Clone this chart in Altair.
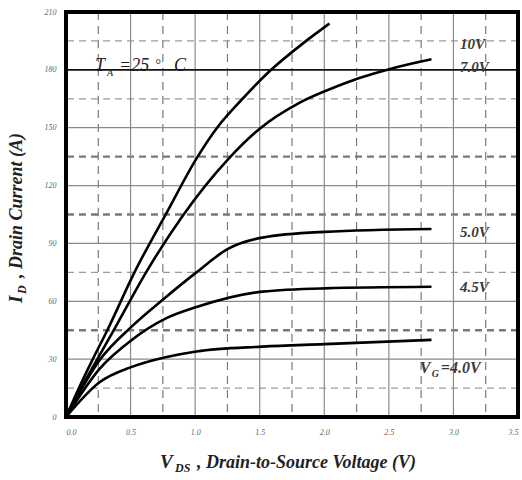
import altair as alt
import pandas as pd

# ---- data ----
vds_10 = [0, 0.1, 0.2, 0.32, 0.53, 0.78, 1.01, 1.17, 1.36, 1.58, 1.84, 2.04]
id_10 = [0, 15, 29, 45, 75, 106, 134, 150, 164.5, 179.5, 194, 204]

vds_7 = [0, 0.1, 0.2, 0.37, 0.62, 0.9, 1.26, 1.50, 1.81, 2.12, 2.26, 2.51, 2.83]
id_7 = [0, 13, 25, 45, 75, 104, 134, 149.5, 163, 172, 175.5, 180.5, 185.5]

vds_5 = [0, 0.26, 0.51, 0.77, 1.01, 1.25, 1.52, 2.0, 2.83]
id_5 = [0, 29.5, 47, 62, 75, 87, 93, 96, 97.5]

vds_45 = [0, 0.26, 0.51, 0.77, 1.01, 1.52, 2.0, 2.83]
id_45 = [0, 25, 40, 51, 57, 65, 66.7, 67.5]

vds_4 = [0, 0.26, 0.51, 0.77, 1.01, 1.52, 2.0, 2.83]
id_4 = [0, 18, 26, 31, 34, 36.5, 37.8, 40]

x_major = [0.5, 1.0, 1.5, 2.0, 2.5, 3.0]
x_minor = [0.25, 0.75, 1.25, 1.75, 2.25, 2.75, 3.25]
y_major = [30, 60, 90, 120, 150, 210]
y_bold = [180]
y_minor_thin = [15, 75, 165, 195]
y_minor_thick = [45, 105, 135]
x_ticks = [0, 0.5, 1.0, 1.5, 2.0, 2.5, 3.0, 3.5]
y_ticks = [0, 30, 60, 90, 120, 150, 180, 210]
x_range = [0, 3.5]
y_range = [0, 210]

curve_labels = ["10V", "7.0V", "5.0V", "4.5V"]
curve_label_x = [3.05, 3.05, 3.05, 3.05]
curve_label_y = [191, 179, 93.5, 65]

# ---- tables ----
rows = []
for name, xs_, ys_ in [("10V", vds_10, id_10), ("7.0V", vds_7, id_7), ("5.0V", vds_5, id_5),
                       ("4.5V", vds_45, id_45), ("4.0V", vds_4, id_4)]:
    for i, (a, b) in enumerate(zip(xs_, ys_)):
        rows.append({"vg": name, "vds": a, "id": b, "o": i})
curves = pd.DataFrame(rows)

FONT = "Liberation Serif"
W, H = 452, 405
xs = alt.Scale(domain=x_range, nice=False)
ys = alt.Scale(domain=y_range, nice=False)


def vrules(vals, color, width, dash=None):
    kw = dict(color=color, strokeWidth=width)
    if dash:
        kw["strokeDash"] = dash
    return alt.Chart(pd.DataFrame({"v": vals})).mark_rule(**kw).encode(
        x=alt.X("v:Q", scale=xs))


def hrules(vals, color, width, dash=None):
    kw = dict(color=color, strokeWidth=width)
    if dash:
        kw["strokeDash"] = dash
    return alt.Chart(pd.DataFrame({"v": vals})).mark_rule(**kw).encode(
        y=alt.Y("v:Q", scale=ys))


base_axes = alt.Chart(pd.DataFrame({"vds": [0], "id": [0]})).mark_point(opacity=0).encode(
    x=alt.X("vds:Q", scale=xs,
            axis=alt.Axis(values=x_ticks, format=".1f", title=None, grid=False, ticks=False,
                          domain=False, labelPadding=11, labelFont=FONT, labelFontStyle="italic",
                          labelFontSize=8, labelColor="#666")),
    y=alt.Y("id:Q", scale=ys,
            axis=alt.Axis(values=y_ticks, format="d", title=None, grid=False, ticks=False,
                          domain=False, labelPadding=10, labelFont=FONT, labelFontStyle="italic",
                          labelFontSize=8, labelColor="#666")),
)

grid = [
    vrules(x_minor, "#7a7a7a", 1.2, [8, 6]),
    hrules(y_minor_thin, "#9a9a9a", 1.2, [7, 5]),
    hrules(y_minor_thick, "#7a7a7a", 2.4, [7, 5]),
    vrules(x_major, "#8a8a8a", 1.2),
    hrules(y_major, "#8a8a8a", 1.2),
    hrules(y_bold, "#111111", 1.8),
]

frame = alt.Chart(pd.DataFrame({"x1": [x_range[0]], "x2": [x_range[1]],
                                "y1": [y_range[0]], "y2": [y_range[1]]})).mark_rect(
    fill=None, fillOpacity=0, stroke="#000000", strokeWidth=4).encode(
    x=alt.X("x1:Q", scale=xs), x2="x2:Q", y=alt.Y("y1:Q", scale=ys), y2="y2:Q")

lines = alt.Chart(curves).mark_line(color="black", strokeWidth=2.6, interpolate="monotone").encode(
    x=alt.X("vds:Q", scale=xs),
    y=alt.Y("id:Q", scale=ys),
    detail="vg:N",
    order="o:Q",
)

lab_df = pd.DataFrame({"t": curve_labels, "x": curve_label_x, "y": curve_label_y})
labels = alt.Chart(lab_df).mark_text(font=FONT, fontStyle="italic", fontWeight="bold", fontSize=15,
                                     align="left", baseline="alphabetic", color="#3a3a3a").encode(
    x=alt.X("x:Q", scale=xs), y=alt.Y("y:Q", scale=ys), text="t:N")

vg_x, vg_y = 2.74, 23


def piece(text, x, y, size, dx=0, dy=0, color="#3a3a3a", weight="bold"):
    return alt.Chart(pd.DataFrame({"t": [text], "x": [x], "y": [y]})).mark_text(
        font=FONT, fontStyle="italic", fontWeight=weight, fontSize=size, align="left",
        baseline="alphabetic", color=color, dx=dx, dy=dy).encode(
        x=alt.X("x:Q", scale=xs), y=alt.Y("y:Q", scale=ys), text="t:N")


vg_label = [
    piece("V", vg_x, vg_y, 16),
    piece("G", vg_x, vg_y, 10, dx=12, dy=4),
    piece("=4.0V", vg_x, vg_y, 16, dx=21),
]

ta_x, ta_y = 0.225, 179.5
ta_label = [
    piece("T", ta_x, ta_y, 18, color="#222", weight="normal"),
    piece("A", ta_x, ta_y, 10, dx=12, dy=5, color="#222", weight="normal"),
    piece("=25", ta_x, ta_y, 18, dx=24, color="#222", weight="normal"),
    piece("°", ta_x, ta_y, 14, dx=60, dy=-2, color="#222", weight="normal"),
    piece("C", ta_x, ta_y, 18, dx=79, color="#222", weight="normal"),
]


def ptext(text, px, py, size, angle=0, dx=0, dy=0):
    kw = dict(font=FONT, fontStyle="italic", fontWeight="bold", fontSize=size, align="left",
              baseline="alphabetic", color="#222", dx=dx, dy=dy)
    if angle:
        kw["angle"] = angle
    return alt.Chart(pd.DataFrame({"t": [text]})).mark_text(**kw).encode(
        x=alt.value(px), y=alt.value(py), text="t:N")


x_title = [
    ptext("V", 94, 456, 19),
    ptext("DS", 109, 460, 12),
    ptext(", Drain-to-Source Voltage (V)", 131, 456, 18),
]
y_title = [
    ptext("I", -44, 291, 19, angle=270),
    ptext("D", -44, 291, 12, angle=270, dx=9, dy=4),
    ptext(", Drain Current (A)", -44, 291, 18, angle=270, dx=25),
]

chart = alt.layer(base_axes, *grid, lines, frame, labels, *vg_label, *ta_label, *x_title,
                  *y_title).properties(
    width=W, height=H,
    autosize=alt.AutoSizeParams(type="none"),
    padding={"left": 66, "top": 12, "right": 4, "bottom": 63},
).configure_view(stroke=None).configure(background="white")

chart.save("out.html", embed_options={"renderer": "svg", "actions": False})
